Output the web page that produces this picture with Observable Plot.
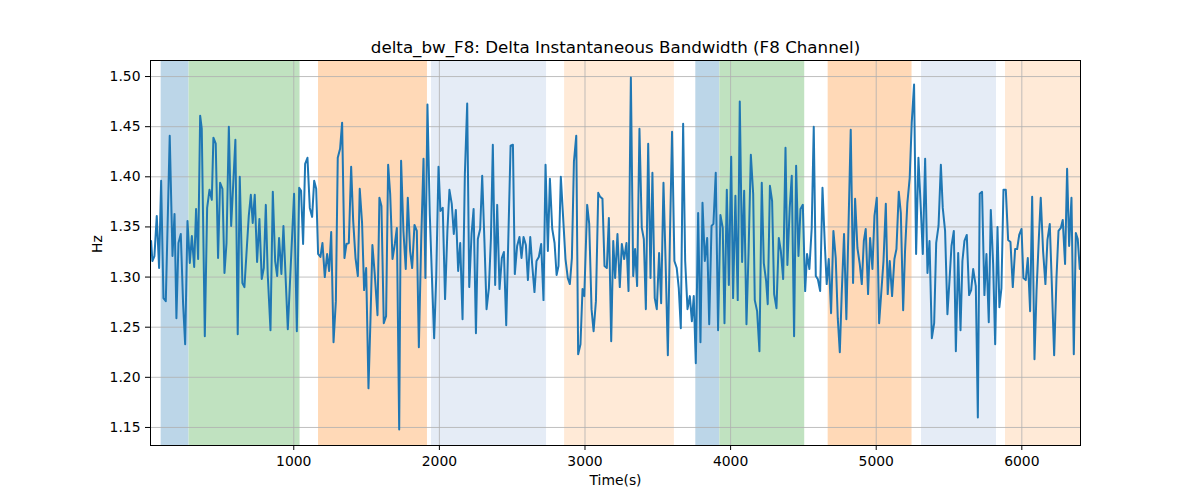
<!DOCTYPE html>
<html>
<head>
<meta charset="utf-8">
<script src="https://cdn.jsdelivr.net/npm/d3@7"></script>
<script src="https://cdn.jsdelivr.net/npm/@observablehq/plot@0.6"></script>
<style>
  html, body { margin: 0; padding: 0; background: white; }
  #chart { width: 1200px; height: 500px; }
</style>
</head>
<body>
<div id="chart"></div>
<script>
const titleText = "delta_bw_F8: Delta Instantaneous Bandwidth (F8 Channel)";
const xLabel = "Time(s)";
const yLabel = "Hz";

const xTicks = [1000, 2000, 3000, 4000, 5000, 6000];
const yTicks = [1.15, 1.20, 1.25, 1.30, 1.35, 1.40, 1.45, 1.50];
const xDomain = [16, 6403];
const yDomain = [1.132, 1.516];

// shaded segments
const bandStart = [89, 281, 1170, 1946, 2860, 3761, 3926, 4670, 5311, 5888];
const bandEnd   = [281, 1043, 1918, 2736, 3614, 3926, 4509, 5246, 5826, 6403];
const bandKind  = ["blue", "green", "orange", "lightblue", "lightorange",
                   "blue", "green", "orange", "lightblue", "lightorange"];

// time series (s, Hz)
const times = [
20,29,43,59,75,89,105,121,148,167,181,194,208,224,240,254,270,286,300,316,329,343,357,368,389,405,421,437,448,464,480,494,510,524,538,554,570,599,615,629,647,661,691,705,718,732,748,764,780,794,808,821,840,856,872,886,899,915,929,959,1002,1021,1037,1050,
1064,1078,1094,1110,1126,1140,1154,1167,1183,1197,1213,1229,1243,1257,1273,1289,1302,1318,1332,1348,1362,1378,1394,1408,1424,1440,1453,1469,1483,1497,1513,1527,1540,1556,1575,1588,1602,1618,1634,1648,1662,1678,1694,1708,1724,1737,1753,1769,1783,1799,1813,1829,1845,1859,1875,1891,1904,1918,1934,1948,1964,1978,1994,2007,2023,2039,2055,2069,2085,2099,2113,
2129,2143,2159,2175,2191,2205,2221,2235,2251,2264,2280,2294,2310,2324,2340,2354,2367,2383,2397,2413,2429,2443,2459,2473,2489,2505,2518,2534,2550,2564,2578,2594,2608,2624,2637,2653,2667,2683,2699,2715,2729,2745,2759,2775,2791,2805,2818,2834,2850,2866,2882,2896,2910,2924,2940,2953,2969,2983,2995,3015,3029,3045,3059,3075,3091,3104,3120,3134,3150,3164,3180,3194,3207,
3223,3239,3253,3269,3285,3299,3315,3331,3344,3358,3374,3390,3404,3418,3434,3450,3463,3479,3493,3509,3523,3539,3553,3569,3585,3598,3614,3630,3644,3658,3674,3688,3704,3720,3734,3747,3761,3777,3793,3807,3823,3839,3853,3869,3882,3898,3914,3930,3946,3958,3974,3988,4004,4017,4033,4049,4063,4079,4093,4109,4123,4139,4155,4166,4182,4198,4214,4228,
4244,4255,4270,4285,4299,4315,4331,4345,4361,4377,4390,4406,4420,4436,4450,4466,4480,4496,4512,4525,4541,4557,4571,4585,4599,4615,4631,4647,4660,4674,4690,4706,4722,4736,4750,4763,4779,4795,4825,4841,4855,4871,4887,4901,4915,4928,4944,4958,4974,4988,5004,5020,5034,5050,5066,5079,5093,5109,5125,5139,5155,5169,5185,5198,5214,5230,5244,5260,5274,5290,5306,5320,5336,
5352,5366,5382,5398,5412,5428,5444,5457,5473,5489,5503,5517,5533,5547,5563,5579,5592,5606,5622,5638,5652,5666,5684,5698,5711,5727,5743,5757,5773,5787,5803,5817,5833,5846,5860,5874,5890,5906,5922,5938,5954,5968,5982,5998,6011,6027,6041,6057,6071,6087,6101,6117,6130,6146,6162,6176,6192,6206,6222,6238,6252,6268,6281,6297,6311,6325,6341,6357,6371,6384,6398
];
const values = [
1.336,1.316,1.321,1.361,1.309,1.396,1.279,1.276,1.441,1.321,1.363,1.259,1.334,1.343,1.273,1.233,1.356,1.314,1.341,1.310,1.368,1.318,1.461,1.448,1.241,1.369,1.387,1.377,1.439,1.433,1.319,1.394,1.388,1.304,1.334,1.450,1.351,1.437,1.243,1.400,1.294,1.290,1.361,1.382,1.354,1.382,1.315,1.358,1.298,1.309,1.372,1.303,1.247,1.385,1.316,1.301,1.339,1.303,1.351,1.248,1.383,1.246,1.389,1.386,
1.333,1.413,1.419,1.369,1.360,1.396,1.388,1.323,1.320,1.334,1.300,1.323,1.306,1.345,1.235,1.276,1.419,1.428,1.454,1.319,1.333,1.334,1.410,1.356,1.319,1.301,1.388,1.354,1.287,1.309,1.189,1.259,1.332,1.303,1.262,1.379,1.371,1.254,1.261,1.412,1.383,1.318,1.333,1.349,1.148,1.416,1.346,1.308,1.379,1.326,1.309,1.352,1.346,1.230,1.336,1.418,1.299,1.472,1.363,1.303,1.239,1.299,1.410,1.366,1.369,1.278,1.346,1.387,1.373,1.343,1.367,
1.306,1.334,1.258,1.403,1.473,1.290,1.343,1.368,1.244,1.338,1.348,1.401,1.333,1.268,1.289,1.339,1.432,1.292,1.372,1.288,1.319,1.325,1.252,1.336,1.431,1.432,1.303,1.331,1.340,1.319,1.340,1.332,1.297,1.340,1.313,1.285,1.316,1.320,1.333,1.277,1.412,1.326,1.398,1.348,1.334,1.302,1.311,1.400,1.359,1.318,1.299,1.293,1.319,1.415,1.441,1.223,1.233,1.288,1.281,1.372,1.353,1.268,1.246,1.276,1.384,1.380,1.378,1.311,1.309,1.359,1.236,1.336,1.299,
1.343,1.290,1.333,1.318,1.334,1.286,1.499,1.301,1.328,1.291,1.448,1.349,1.338,1.268,1.433,1.299,1.404,1.279,1.268,1.324,1.274,1.394,1.318,1.222,1.353,1.445,1.316,1.309,1.289,1.249,1.453,1.316,1.268,1.281,1.256,1.281,1.214,1.364,1.235,1.374,1.316,1.339,1.253,1.351,1.353,1.404,1.247,1.362,1.349,1.254,1.387,1.292,1.420,1.279,1.381,1.277,1.475,1.315,1.386,1.253,1.323,1.422,1.383,1.277,1.266,1.226,1.394,1.314,
1.296,1.273,1.391,1.376,1.283,1.269,1.339,1.326,1.298,1.429,1.312,1.369,1.401,1.241,1.411,1.321,1.368,1.372,1.286,1.323,1.308,1.349,1.450,1.301,1.298,1.286,1.389,1.333,1.293,1.318,1.264,1.346,1.319,1.259,1.225,1.283,1.343,1.258,1.447,1.294,1.378,1.329,1.313,1.293,1.336,1.348,1.283,1.339,1.308,1.361,1.379,1.254,1.283,1.316,1.373,1.283,1.316,1.281,1.318,1.328,1.385,1.364,1.267,1.326,1.374,1.399,1.454,1.492,1.323,1.419,1.369,1.323,1.418,
1.304,1.336,1.239,1.254,1.334,1.351,1.412,1.369,1.346,1.263,1.296,1.331,1.346,1.226,1.324,1.247,1.316,1.336,1.342,1.282,1.287,1.308,1.291,1.160,1.383,1.385,1.282,1.323,1.255,1.367,1.313,1.233,1.350,1.270,1.289,1.387,1.387,1.337,1.335,1.290,1.328,1.328,1.342,1.348,1.299,1.297,1.319,1.266,1.380,1.218,1.286,1.339,1.379,1.326,1.293,1.337,1.353,1.293,1.222,1.299,1.346,1.349,1.357,1.313,1.408,1.331,1.379,1.223,1.344,1.338,1.308
];

const series = times.map((t, i) => ({t, v: values[i]}));
const bands = bandStart.map((s, i) => ({start: s, end: bandEnd[i], kind: bandKind[i]}));
const bandColors = {
  blue: "#bcd6e8", green: "#c0e2c0", orange: "#ffd9b7",
  lightblue: "#e5ecf6", lightorange: "#ffead7"
};

const font = "DejaVu Sans, Liberation Sans, sans-serif";
const chart = Plot.plot({
  width: 1200,
  height: 500,
  marginLeft: 150,
  marginRight: 120,
  marginTop: 60,
  marginBottom: 55,
  style: {fontFamily: font, fontSize: "13.9px", background: "white", color: "black", overflow: "visible"},
  x: {domain: xDomain, label: null},
  y: {domain: yDomain, label: null},
  marks: [
    Plot.rect(bands, {x1: "start", x2: "end", fill: d => bandColors[d.kind]}),
    Plot.gridX(xTicks, {stroke: "#b0b0b0", strokeOpacity: 1, strokeWidth: 0.8}),
    Plot.gridY(yTicks, {stroke: "#b0b0b0", strokeOpacity: 1, strokeWidth: 0.8}),
    Plot.line(series, {x: "t", y: "v", stroke: "#1f77b4", strokeWidth: 2, strokeLinejoin: "round", clip: true}),
    Plot.frame({stroke: "black", strokeWidth: 1}),
    Plot.axisX(xTicks, {tickSize: 5, tickPadding: 6, tickFormat: d => String(d), fontSize: 13.9, label: null}),
    Plot.axisY(yTicks, {tickSize: 5, tickPadding: 5, tickFormat: d3.format(".2f"), fontSize: 13.9, label: null}),
    Plot.text([titleText], {frameAnchor: "top", dy: -19, fontSize: 16.7, text: d => d}),
    Plot.text([xLabel], {frameAnchor: "bottom", dy: 39, fontSize: 13.9, text: d => d}),
    Plot.text([yLabel], {frameAnchor: "left", dx: -53, rotate: -90, fontSize: 13.9, text: d => d})
  ]
});
document.getElementById("chart").appendChild(chart);
</script>
</body>
</html>
